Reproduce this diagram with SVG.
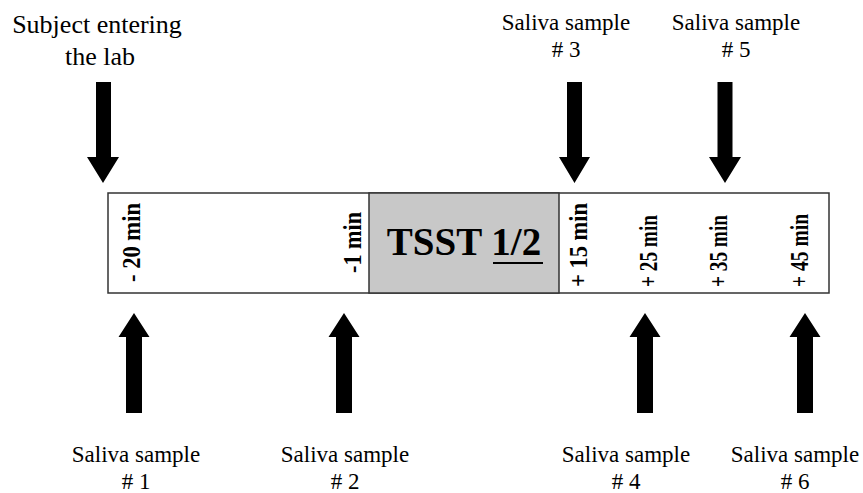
<svg xmlns="http://www.w3.org/2000/svg" width="863" height="493" viewBox="0 0 863 493">
  <style>
    text { font-family: 'Liberation Serif', 'Times New Roman', 'DejaVu Serif', serif; fill: #000; }
    .lbl { font-size: 23px; text-anchor: middle; }
    .big { font-size: 26px; }
    .vt { font-size: 26px; font-weight: bold; }
    .tsst { font-size: 39px; font-weight: bold; text-anchor: middle; }
    .box { fill: #fff; stroke: #333; stroke-width: 1.5; }
    .gray { fill: #c8c8c8; stroke: #333; stroke-width: 1.5; }
    .arrow { fill: #000; }
  </style>
  <rect width="863" height="493" fill="#fff"/>

  <g id="timeline">
    <rect class="box" x="108" y="193" width="721" height="100"/>
    <rect class="gray" x="369" y="193" width="190" height="100"/>
  </g>

  <g id="tsst">
    <text class="tsst" x="464" y="255">TSST 1/2</text>
    <rect x="493" y="262" width="50" height="2" fill="#000"/>
  </g>

  <g id="times">
    <text class="vt" transform="translate(140,282) rotate(-90)" textLength="79" lengthAdjust="spacingAndGlyphs">- 20 min</text>
    <text class="vt" transform="translate(361,273) rotate(-90)" textLength="61" lengthAdjust="spacingAndGlyphs">-1 min</text>
    <text class="vt" transform="translate(587,287) rotate(-90)" textLength="84" lengthAdjust="spacingAndGlyphs">+ 15 min</text>
    <text class="vt" transform="translate(657,287) rotate(-90)" textLength="72" lengthAdjust="spacingAndGlyphs">+ 25 min</text>
    <text class="vt" transform="translate(727,287) rotate(-90)" textLength="72" lengthAdjust="spacingAndGlyphs">+ 35 min</text>
    <text class="vt" transform="translate(808,287) rotate(-90)" textLength="73" lengthAdjust="spacingAndGlyphs">+ 45 min</text>
  </g>

  <g id="label-enter">
    <text class="lbl big" x="97" y="33">Subject entering</text>
    <text class="lbl big" x="100" y="65">the lab</text>
  </g>
  <g id="label-s3">
    <text class="lbl" x="566" y="30">Saliva sample</text>
    <text class="lbl" x="566" y="57"># 3</text>
  </g>
  <g id="label-s5">
    <text class="lbl" x="736" y="30">Saliva sample</text>
    <text class="lbl" x="736" y="57"># 5</text>
  </g>
  <g id="label-s1">
    <text class="lbl" x="136" y="462">Saliva sample</text>
    <text class="lbl" x="136" y="489"># 1</text>
  </g>
  <g id="label-s2">
    <text class="lbl" x="345" y="462">Saliva sample</text>
    <text class="lbl" x="345" y="489"># 2</text>
  </g>
  <g id="label-s4">
    <text class="lbl" x="626" y="462">Saliva sample</text>
    <text class="lbl" x="626" y="489"># 4</text>
  </g>
  <g id="label-s6">
    <text class="lbl" x="795" y="462">Saliva sample</text>
    <text class="lbl" x="795" y="489"># 6</text>
  </g>

  <g id="connectors">
    <polygon class="arrow" points="96,82 111,82 111,157 119,157 103,183 87,157 96,157"/>
    <polygon class="arrow" points="567,82 582,82 582,157 590,157 574.5,183 559,157 567,157"/>
    <polygon class="arrow" points="717.5,82 732.5,82 732.5,157 741,157 725,183 709,157 717.5,157"/>
    <polygon class="arrow" points="126,413 142,413 142,337 149.5,337 134,313 118.5,337 126,337"/>
    <polygon class="arrow" points="336,413 352,413 352,337 359.5,337 344,313 328.5,337 336,337"/>
    <polygon class="arrow" points="637,413 653,413 653,337 660.5,337 645,313 629.5,337 637,337"/>
    <polygon class="arrow" points="797,413 813,413 813,337 820.5,337 805,313 789.5,337 797,337"/>
  </g>
</svg>
